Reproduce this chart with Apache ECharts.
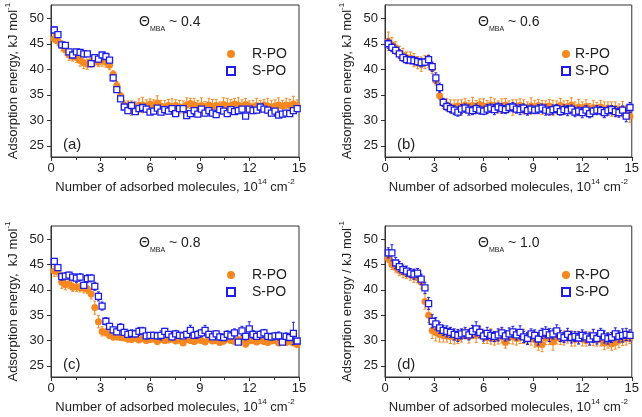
<!DOCTYPE html>
<html>
<head>
<meta charset="utf-8">
<script src="https://cdn.jsdelivr.net/npm/echarts@6/dist/echarts.min.js"></script>
<style>
  html, body { margin: 0; padding: 0; background: #fff; }
  #main { width: 642px; height: 417px; }
</style>
</head>
<body>
<div id="main"></div>
<script>
// coverage, 10^14 cm^-2 (same grid for every panel)
var coverage = [0.20, 0.42, 0.65, 0.87, 1.09, 1.31, 1.54, 1.76, 1.98, 2.20,
  2.43, 2.65, 2.87, 3.09, 3.32, 3.54, 3.76, 3.98, 4.21, 4.43,
  4.65, 4.87, 5.10, 5.32, 5.54, 5.76, 5.99, 6.21, 6.43, 6.65,
  6.88, 7.10, 7.32, 7.54, 7.77, 7.99, 8.21, 8.43, 8.66, 8.88,
  9.10, 9.32, 9.55, 9.77, 9.99, 10.21, 10.44, 10.66, 10.88, 11.10,
  11.33, 11.55, 11.77, 11.99, 12.22, 12.44, 12.66, 12.88, 13.11, 13.33,
  13.55, 13.77, 14.00, 14.22, 14.44, 14.66, 14.89];

var xTicks = [0, 3, 6, 9, 12, 15];
var yTicks = [25, 30, 35, 40, 45, 50];
var thetas = ['0.4', '0.6', '0.8', '1.0'];
var tags = ['(a)', '(b)', '(c)', '(d)'];
var yNames = ['Adsorption energy, kJ mol', 'Adsorption energy, kJ mol',
  'Adsorption energy,  kJ mol', 'Adsorption energy / kJ mol'];

// (a) theta 0.4
var rA = [46.0, 45.5, 44.6, 43.8, 42.8, 42.5, 42.3, 41.7, 41.3, 41.0,
  41.5, 41.8, 41.4, 41.7, 41.4, 40.8, 39.0, 36.8, 34.8, 33.0,
  32.6, 32.4, 32.5, 32.9, 33.0, 32.8, 33.2, 32.7, 33.4, 32.8,
  32.6, 32.9, 32.7, 32.9, 32.6, 32.6, 33.0, 33.3, 33.0, 32.7,
  32.9, 32.6, 33.0, 32.7, 32.9, 32.6, 33.1, 32.8, 32.9, 33.2,
  33.0, 32.7, 33.1, 32.8, 32.6, 32.9, 32.7, 33.0, 32.8, 32.6,
  32.8, 33.0, 32.8, 33.0, 32.9, 33.2, 32.8];
var rAErr = [0.8, 0.9, 1.0, 1.0, 1.1, 0.9, 1.0, 1.1, 1.2, 1.0,
  1.1, 1.0, 0.9, 1.1, 1.0, 0.9, 0.7, 0.8, 0.7, 0.8,
  1.2, 1.4, 1.1, 1.3, 1.5, 1.2, 1.0, 1.3, 1.4, 1.1,
  1.3, 1.2, 1.5, 1.1, 1.3, 1.2, 1.4, 1.0, 1.3, 1.2,
  1.5, 1.1, 1.3, 1.4, 1.2, 1.0, 1.3, 1.5, 1.2, 1.1,
  1.4, 1.3, 1.2, 1.0, 1.3, 1.4, 1.2, 1.1, 1.5, 1.3,
  1.2, 1.4, 1.1, 1.3, 1.2, 1.5, 1.2];
var sA = [47.7, 46.8, 44.8, 44.7, 43.4, 42.8, 43.4, 43.3, 43.0, 43.0,
  41.1, 42.3, 42.0, 42.8, 42.5, 41.8, 38.3, 36.0, 34.2, 32.6,
  31.9, 32.9, 31.7, 32.3, 32.5, 32.2, 31.6, 31.8, 32.4, 31.6,
  32.1, 31.8, 32.3, 31.3, 32.3, 32.3, 30.9, 31.3, 31.9, 31.2,
  32.2, 31.4, 31.9, 31.4, 31.1, 32.1, 31.8, 31.3, 32.1, 31.7,
  31.9, 32.2, 30.8, 32.2, 31.9, 32.0, 32.6, 32.2, 32.0, 31.4,
  31.8, 31.0, 31.2, 31.4, 31.3, 31.9, 32.3];
var sAErr = [0.6, 0.5, 0.5, 0.4, 0.5, 0.4, 0.5, 0.4, 0.5, 0.4,
  0.5, 0.4, 0.5, 0.4, 0.5, 0.5, 0.6, 0.5, 0.5, 0.4,
  0.4, 0.5, 0.4, 0.5, 0.4, 0.5, 0.4, 0.5, 0.4, 0.5,
  0.4, 0.5, 0.4, 0.5, 0.4, 0.5, 0.4, 0.5, 0.4, 0.5,
  0.4, 0.5, 0.4, 0.5, 0.4, 0.5, 0.4, 0.5, 0.4, 0.5,
  0.4, 0.5, 0.4, 0.5, 0.4, 0.5, 0.4, 0.5, 0.4, 0.5,
  0.4, 0.5, 0.4, 0.5, 0.4, 0.5, 0.5];

// (b) theta 0.6
var rB = [45.5, 44.8, 44.2, 43.3, 42.8, 42.3, 42.2, 41.8, 41.3, 41.0,
  41.4, 41.6, 40.2, 37.8, 34.8, 33.3, 33.0, 32.7,
  32.6, 32.8, 32.5, 33.0, 32.7, 32.9, 32.6, 33.1, 32.8, 32.7,
  33.0, 32.9, 32.6, 32.8, 33.0, 32.7, 32.5, 32.8, 32.9, 32.6,
  32.4, 32.8, 32.6, 32.9, 32.5, 32.7, 32.8, 32.4, 32.6, 32.9,
  32.5, 32.7, 33.0, 32.3, 32.6, 32.4, 32.7, 32.2, 32.5, 32.3,
  32.6, 32.1, 32.4, 32.2, 32.3, 32.0, 32.2, 31.6, 30.8];
var rBErr = [1.8, 1.4, 1.2, 1.2, 1.3, 1.1, 1.2, 1.3, 1.2, 1.4,
  1.3, 1.2, 1.0, 0.9, 0.8, 1.0, 1.2, 1.3, 1.4, 1.2,
  1.5, 1.3, 1.2, 1.6, 1.3, 1.1, 1.4, 1.2, 1.5, 1.3,
  1.2, 1.4, 1.3, 1.1, 1.5, 1.2, 1.3, 1.4, 1.2, 1.6,
  1.3, 1.2, 1.4, 1.1, 1.3, 1.5, 1.2, 1.4, 1.3, 1.2,
  1.4, 1.3, 1.5, 1.2, 1.3, 1.1, 1.4, 1.2, 1.3, 1.5,
  1.2, 1.4, 1.3, 1.2, 1.5, 1.3, 1.2];
var sB = [45.0, 44.3, 43.7, 43.0, 42.3, 41.9, 41.8, 41.7, 41.5, 41.3,
  41.4, 41.9, 40.5, 38.3, 36.4, 33.5, 32.7, 32.3,
  32.0, 31.6, 32.2, 32.4, 32.0, 31.9, 32.3, 32.0, 31.8, 32.2,
  32.4, 32.1, 32.6, 32.3, 32.1, 32.5, 32.6, 32.2, 32.1, 32.4,
  31.9, 32.2, 32.0, 32.2, 32.4, 32.0, 31.8, 32.1, 32.3, 31.7,
  32.1, 31.9, 32.2, 31.6, 31.8, 31.5, 32.0, 31.3, 31.8, 32.0,
  31.9, 31.5, 31.9, 32.1, 31.7, 31.5, 32.0, 30.8, 32.5];
var sBErr = [0.9, 0.8, 0.7, 0.8, 0.7, 0.8, 0.7, 0.8, 0.7, 0.8,
  0.7, 0.8, 0.9, 1.0, 0.9, 0.8, 0.7, 0.8, 0.9, 0.8,
  0.9, 0.8, 1.0, 0.8, 0.9, 0.8, 0.7, 0.9, 0.8, 1.0,
  0.8, 0.9, 0.8, 0.7, 0.9, 0.8, 1.0, 0.8, 0.9, 0.8,
  0.7, 0.9, 0.8, 1.0, 0.8, 0.9, 0.8, 0.7, 0.9, 1.0,
  0.8, 0.9, 0.8, 1.0, 0.9, 0.8, 0.7, 0.9, 0.8, 1.0,
  0.9, 0.8, 1.0, 0.9, 0.8, 1.1, 1.0];

// (c) theta 0.8
var rC = [43.7, 43.5, 41.5, 41.0, 41.2, 40.5, 40.6, 40.4, 40.3, 40.1,
  39.2, 36.5, 33.7, 31.8, 31.6, 31.0, 30.7, 30.7,
  30.6, 30.5, 30.3, 30.2, 30.5, 30.1, 30.4, 30.0, 30.2, 30.3,
  29.8, 30.2, 30.0, 30.1, 30.3, 29.9, 30.1, 29.5, 30.2, 30.0,
  29.8, 30.1, 30.0, 29.7, 30.2, 29.9, 30.0, 29.6, 29.9, 30.3,
  30.0, 29.8, 30.1, 30.2, 29.3, 29.9, 30.0, 29.7, 30.1, 29.8,
  29.6, 29.9, 30.0, 29.5, 29.8, 29.6, 29.9, 29.5, 29.2];
var rCErr = [1.0, 0.9, 1.2, 1.0, 0.9, 0.8, 0.9, 0.8, 0.9, 0.8,
  1.0, 1.3, 1.2, 0.9, 0.7, 0.6, 0.6, 0.5, 0.6, 0.5,
  0.6, 0.5, 0.6, 0.5, 0.6, 0.5, 0.6, 0.5, 0.6, 0.5,
  0.6, 0.5, 0.6, 0.5, 0.6, 0.5, 0.6, 0.5, 0.6, 0.5,
  0.6, 0.5, 0.6, 0.5, 0.6, 0.5, 0.6, 0.5, 0.6, 0.5,
  0.6, 0.5, 0.6, 0.5, 0.6, 0.5, 0.6, 0.5, 0.6, 0.5,
  0.6, 0.5, 0.6, 0.5, 0.6, 0.5, 0.6];
var sC = [45.6, 44.4, 42.6, 42.7, 42.9, 42.5, 42.3, 42.5, 40.9, 42.2,
  42.3, 40.7, 38.7, 36.8, 33.8, 32.8, 32.1, 31.7, 32.6,
  31.6, 31.2, 31.4, 31.3, 31.8, 31.9, 30.9, 31.0, 31.0, 30.9,
  31.0, 31.8, 31.2, 30.7, 31.3, 31.0, 30.9, 31.2, 32.0, 31.0,
  31.2, 31.5, 32.0, 31.2, 30.7, 31.3, 30.7, 30.6, 31.2, 30.9,
  31.5, 29.7, 31.9, 30.8, 32.3, 31.2, 30.8, 31.2, 31.5, 30.8,
  30.7, 30.9, 30.9, 29.7, 30.8, 30.6, 31.4, 29.9];
var sCErr = [0.6, 0.6, 0.7, 0.7, 0.6, 0.7, 0.8, 0.7, 0.6, 0.8,
  0.7, 0.8, 0.9, 0.8, 0.7, 0.6, 0.6, 0.5, 0.7, 0.6,
  0.6, 0.7, 0.6, 0.8, 0.7, 0.6, 0.5, 0.6, 0.6, 0.9,
  0.6, 0.5, 0.6, 0.7, 0.6, 0.5, 0.6, 1.0, 0.6, 0.7,
  0.7, 1.0, 0.6, 0.5, 0.6, 0.7, 0.6, 0.7, 0.6, 0.8,
  0.5, 0.9, 0.7, 1.4, 0.8, 0.6, 0.7, 0.7, 0.6, 0.6,
  0.7, 0.8, 0.5, 0.7, 0.6, 2.2, 0.5];

// (d) theta 1.0
var rD = [46.2, 45.0, 44.4, 43.8, 43.5, 43.2, 43.0, 42.7, 42.4, 41.5,
  37.7, 35.0, 32.0, 31.6, 31.2, 31.0,
  30.9, 30.8, 30.6, 30.5, 30.9, 31.3, 30.8, 31.5, 31.0, 31.8,
  30.7, 30.5, 30.8, 30.3, 30.6, 30.9, 29.6, 30.6, 30.8, 30.4,
  30.6, 30.8, 30.5, 30.4, 30.2, 29.3, 29.2, 30.5, 30.4, 29.7,
  30.6, 30.3, 30.5, 30.7, 30.4, 30.2, 30.6, 30.3, 30.0, 30.4,
  30.6, 30.1, 30.3, 29.5, 30.0, 29.3, 29.6, 30.0, 30.2, 30.4, 30.5];
var rDErr = [0.8, 1.0, 0.9, 1.0, 1.1, 1.0, 1.1, 1.2, 1.0, 1.3,
  1.5, 1.4, 1.6, 1.7, 1.5, 1.3, 1.2, 1.4, 1.3, 1.1,
  1.2, 1.0, 1.3, 1.1, 1.4, 1.2, 1.3, 1.1, 1.5, 1.2,
  1.3, 1.4, 1.1, 1.2, 1.5, 1.3, 1.2, 1.4, 1.1, 1.3,
  1.5, 1.2, 1.4, 1.3, 1.2, 1.6, 1.3, 1.1, 1.4, 1.2,
  1.5, 1.3, 1.2, 1.4, 1.1, 1.3, 1.6, 1.2, 1.4, 1.3,
  1.5, 1.2, 1.3, 1.4, 1.2, 1.3, 1.1];
var sD = [47.3, 47.3, 45.3, 44.6, 44.0, 43.7, 43.3, 43.1, 43.3, 42.1,
  40.4, 37.3, 33.8, 33.3, 32.5, 32.0,
  31.8, 31.6, 31.2, 31.0, 31.3, 31.5, 31.1, 31.8, 32.3, 31.6,
  30.9, 31.4, 31.0, 30.8, 31.1, 31.5, 30.9, 31.3, 31.7, 31.1,
  31.6, 30.7, 30.4, 31.3, 31.0, 30.3, 31.4, 31.6, 31.1, 31.3,
  31.9, 30.9, 30.6, 31.2, 30.6, 30.8, 30.5, 31.0, 30.7, 30.3,
  30.9, 30.4, 31.4, 30.7, 30.4, 30.6, 31.3, 30.8, 31.0, 31.2, 31.0];
var sDErr = [1.0, 1.6, 1.1, 1.0, 0.9, 1.0, 0.9, 1.0, 0.9, 1.0,
  1.1, 1.2, 1.3, 1.2, 1.1, 1.0, 1.1, 1.0, 1.1, 1.2,
  1.0, 1.1, 1.0, 1.2, 1.4, 1.1, 1.0, 1.2, 1.1, 1.0,
  1.2, 1.1, 1.0, 1.2, 1.1, 1.0, 1.3, 1.1, 1.2, 1.0,
  1.1, 1.2, 1.0, 1.1, 1.3, 1.0, 1.2, 1.1, 1.0, 1.2,
  1.1, 1.0, 1.2, 1.1, 1.0, 1.2, 1.3, 1.1, 1.0, 1.2,
  1.1, 1.0, 1.2, 1.1, 1.3, 1.2, 1.1];

var rSets = [[rA, rAErr], [rB, rBErr], [rC, rCErr], [rD, rDErr]];
var sSets = [[sA, sAErr], [sB, sBErr], [sC, sCErr], [sD, sDErr]];

var ORANGE = '#F7871F';
var BLUE = '#1E1EE8';
var INK = '#222';
var FONT = 'Liberation Sans, Arial, sans-serif';

var boxes = [
  { left: 51, top: 5, width: 248, height: 152 },
  { left: 385, top: 5, width: 248, height: 152 },
  { left: 51, top: 226, width: 248, height: 151 },
  { left: 385, top: 226, width: 248, height: 151 }
];
var wideLegend = [true, false, true, false];

function errBar(color) {
  return function (params, api) {
    var x = api.value(0), y = api.value(1), e = api.value(2);
    var hi = api.coord([x, y + e]);
    var lo = api.coord([x, y - e]);
    var st = { stroke: color, lineWidth: 1 };
    return {
      type: 'group',
      children: [
        { type: 'line', shape: { x1: hi[0], y1: hi[1], x2: lo[0], y2: lo[1] }, style: st },
        { type: 'line', shape: { x1: hi[0] - 1.5, y1: hi[1], x2: hi[0] + 1.5, y2: hi[1] }, style: st },
        { type: 'line', shape: { x1: lo[0] - 1.5, y1: lo[1], x2: lo[0] + 1.5, y2: lo[1] }, style: st }
      ]
    };
  };
}

function withErr(vals, errs) {
  return coverage.map(function (x, k) { return [x, vals[k], errs[k]]; });
}

var supRich = {
  n: { fontSize: 13, color: INK, fontFamily: FONT, lineHeight: 16, verticalAlign: 'bottom' },
  sup: { fontSize: 8, color: INK, fontFamily: FONT, lineHeight: 9, verticalAlign: 'top' }
};

var grids = [], xAxes = [], yAxes = [], series = [], titles = [], legends = [];

boxes.forEach(function (b, i) {
  grids.push({ left: b.left, top: b.top, width: b.width, height: b.height,
    show: true, borderColor: '#333', borderWidth: 1 });

  xAxes.push({
    gridIndex: i, type: 'value', min: 0, max: 15, interval: 3,
    axisLine: { show: true, onZero: false, lineStyle: { color: '#333', width: 1 } },
    axisTick: { show: true, length: 4, lineStyle: { color: '#333' } },
    minorTick: { show: true, splitNumber: 2, length: 3, lineStyle: { color: '#333' } },
    splitLine: { show: false },
    axisLabel: { margin: 5, fontSize: 13, color: INK, fontFamily: FONT,
      customValues: xTicks },
    name: '{n|Number of adsorbed molecules, 10}{sup|14}{n| cm}{sup|-2}',
    nameLocation: 'middle', nameGap: 21,
    nameTextStyle: { rich: supRich }
  });

  yAxes.push({
    gridIndex: i, type: 'value', min: 22.8, max: 52.6,
    axisLine: { show: true, onZero: false, lineStyle: { color: '#333', width: 1 } },
    axisTick: { show: true, length: 4, customValues: yTicks, lineStyle: { color: '#333' } },
    splitLine: { show: false },
    axisLabel: { margin: 7, fontSize: 13, color: INK, fontFamily: FONT,
      customValues: yTicks },
    name: '{n|' + yNames[i] + '}{sup|-1}',
    nameLocation: 'middle', nameGap: 31, nameRotate: 90,
    nameTextStyle: { rich: supRich }
  });

  var r = rSets[i], s = sSets[i];
  series.push({ type: 'custom', name: 'R-PO error', xAxisIndex: i, yAxisIndex: i,
    renderItem: errBar(ORANGE), encode: { x: 0, y: 1 }, data: withErr(r[0], r[1]), z: 1 });
  series.push({ type: 'scatter', name: 'R-PO', xAxisIndex: i, yAxisIndex: i,
    symbol: 'circle', symbolSize: 7, itemStyle: { color: ORANGE, opacity: 1 },
    data: coverage.map(function (x, k) { return [x, r[0][k]]; }), z: 2 });
  series.push({ type: 'custom', name: 'S-PO error', xAxisIndex: i, yAxisIndex: i,
    renderItem: errBar(BLUE), encode: { x: 0, y: 1 }, data: withErr(s[0], s[1]), z: 3 });
  series.push({ type: 'scatter', name: 'S-PO', xAxisIndex: i, yAxisIndex: i,
    symbol: 'rect', symbolSize: 6,
    itemStyle: { color: '#fff', borderColor: BLUE, borderWidth: 1.3, opacity: 1 },
    data: coverage.map(function (x, k) { return [x, s[0][k]]; }), z: 4 });

  var thetaLeft = (i % 2 === 0) ? 139 : 478;
  titles.push({
    left: thetaLeft, top: b.top + 10, padding: 0,
    text: '{t|\u0398}{sub|MBA}{t| ~ ' + thetas[i] + '}',
    textStyle: { fontWeight: 'normal', rich: {
      t: { fontSize: 14, fontWeight: 'normal', color: INK, fontFamily: FONT, lineHeight: 18, verticalAlign: 'top' },
      sub: { fontSize: 7, fontWeight: 'normal', color: INK, fontFamily: FONT, lineHeight: 9, verticalAlign: 'bottom' }
    } }
  });
  titles.push({
    left: b.left + 12, top: b.top + b.height - 20, padding: 0,
    text: tags[i],
    textStyle: { fontSize: 15, fontWeight: 'normal', color: INK, fontFamily: FONT }
  });

  legends.push({
    orient: 'vertical', left: b.left + 175 + (wideLegend[i] ? 0 : 1), top: b.top + 42,
    padding: 0, itemWidth: 8, itemHeight: 8, itemGap: 3,
    data: ['R-PO', 'S-PO'],
    textStyle: { fontSize: 14, color: INK, fontFamily: FONT,
      padding: [0, 0, 0, wideLegend[i] ? 12 : 0] }
  });
});

var chart = echarts.init(document.getElementById('main'));
chart.setOption({
  animation: false,
  backgroundColor: '#fff',
  textStyle: { fontFamily: FONT },
  title: titles,
  legend: legends,
  grid: grids,
  xAxis: xAxes,
  yAxis: yAxes,
  series: series
});
</script>
</body>
</html>
